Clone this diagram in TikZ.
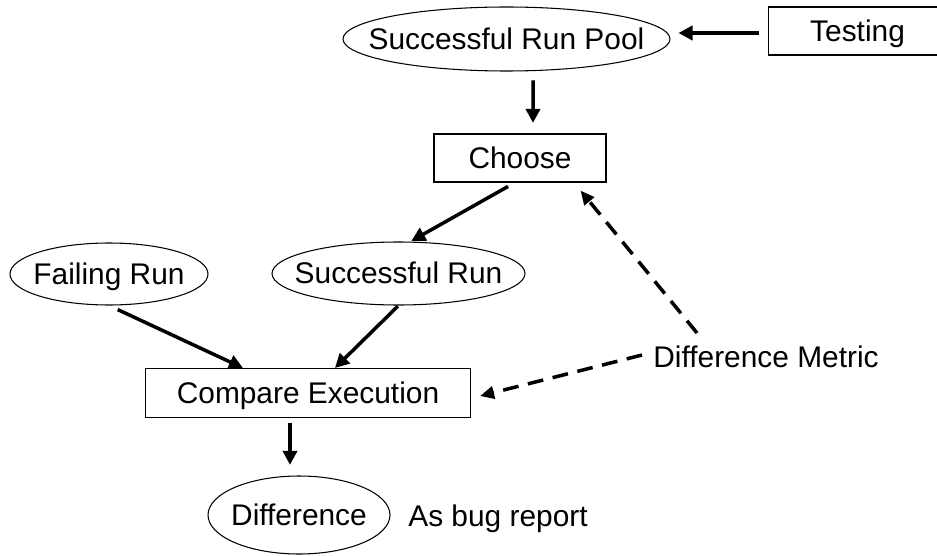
\documentclass[tikz,border=0pt]{standalone}
\usepackage{fontspec}
\setmainfont{Liberation Sans}
\usetikzlibrary{shapes.geometric,arrows.meta}

\tikzset{
    caps/.style={text height=11.7pt, text depth=0pt},
    run/.style={draw, ellipse, line width=0.6pt, inner sep=0pt, caps,
        execute at begin node={\hbox to 0pt\bgroup\hss}, execute at end node={\hss\egroup}},
    stepbox/.style={draw, rectangle, line width=0.6pt, inner sep=0pt, caps},
    flow/.style={line width=2pt, -{Triangle[length=8pt,width=8pt]}},
    metricflow/.style={line width=2pt, dash pattern=on 9pt off 5.5pt, -{Triangle[length=8pt,width=7pt]}}
}

\begin{document}
\begin{tikzpicture}[font=\fontsize{17}{20}\selectfont]
        \useasboundingbox[fill=white] (0,0) rectangle (18.74,-11.12);

        \node[run, minimum width=6.54cm, minimum height=1.28cm] (pool) at (10.13,-0.78) {Successful Run Pool};
        \node[stepbox, minimum height=0.96cm, anchor=west] (test) at (15.36,-0.62) {\makebox[3.56cm]{Testing}\hspace*{0.6cm}};
        \node[stepbox, minimum width=3.44cm, minimum height=0.96cm] (choose) at (10.4,-3.16) {Choose};
        \node[run, minimum width=3.96cm, minimum height=1.24cm] (fail) at (2.18,-5.48) {Failing Run};
        \node[run, minimum width=5.06cm, minimum height=1.26cm] (succ) at (7.97,-5.47) {Successful Run};
        \node[stepbox, minimum width=6.5cm, minimum height=0.98cm] (compare) at (6.16,-7.86) {Compare Execution};
        \node[run, minimum width=3.64cm, minimum height=1.56cm] (diff) at (5.98,-10.3) {Difference};
        \node[inner sep=0pt, caps] (metric) at (15.32,-7.14) {Difference Metric};
        \node[inner sep=0pt, caps, anchor=west] (report) at (8.16,-10.32) {As bug report};

        \draw[flow, shorten <=5pt, shorten >=4.5pt] ([yshift=-0.04cm]test.west) -- ([yshift=-0.04cm]test.west -| pool.east);
        \draw[flow, shorten <=5pt, shorten >=6pt] ([xshift=0.53cm]pool.south) -- ([xshift=0.26cm]choose.north);
        \draw[flow, shorten <=4.5pt, shorten >=0.5pt] ([xshift=-0.1cm]choose.south) -- ([xshift=0.24cm]succ.north);
        \draw[flow, shorten <=5.5pt] (fail.south) -- ([xshift=-1.3cm]compare.north);
        \draw[flow, shorten <=0.5pt] (succ.south) -- ([xshift=0.54cm]compare.north);
        \draw[flow, shorten <=3pt, shorten >=6pt] ([xshift=-0.36cm]compare.south) -- ([xshift=-0.18cm]diff.north);

        % metric feeds back into both steps
        \draw[metricflow] ([xshift=-1.38cm,yshift=0.48cm]metric.center) -- ([xshift=-0.52cm,yshift=-0.16cm]choose.south east);
        \draw[metricflow] ([xshift=-0.22cm,yshift=0.04cm]metric.west) -- ([xshift=0.18cm,yshift=-0.06cm]compare.east);
    \end{tikzpicture}
\end{document}
